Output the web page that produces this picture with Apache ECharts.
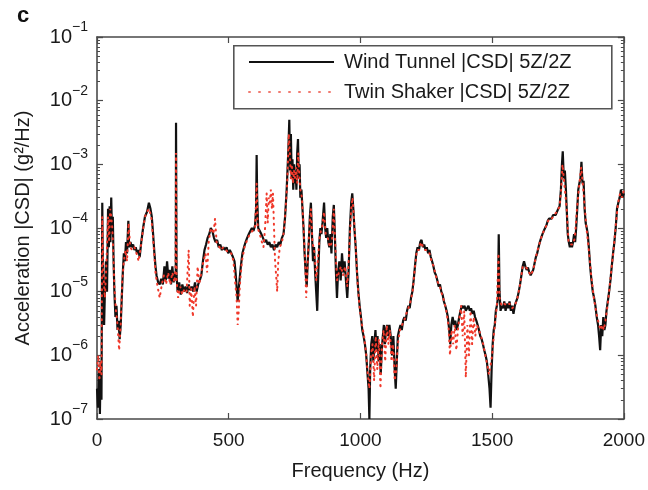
<!DOCTYPE html>
<html>
<head>
<meta charset="utf-8">
<script src="https://cdn.jsdelivr.net/npm/echarts@6/dist/echarts.min.js"></script>
<style>html,body{margin:0;padding:0;background:#fff;}#chart{width:648px;height:490px;}</style>
</head>
<body>
<div id="chart"></div>
<script>
// ---- DATA ----
const xTicks = [0, 500, 1000, 1500, 2000];
const yExponents = [-7, -6, -5, -4, -3, -2, -1];
const seriesNames = ['Wind Tunnel |CSD| 5Z/2Z', 'Twin Shaker |CSD| 5Z/2Z'];

// [frequency (Hz), |CSD| (g^2/Hz)]
const windTunnel = [
[0,3e-7],[4,1.5e-7],[8,6e-7],[11,1.2e-7],[14,8e-7],[17,2e-7],[20,2.5e-4],[23,1e-5],[27,3e-6],[30,1e-5],
[34,3e-5],[38,1e-5],[42,2e-4],[45,5e-5],[48,2.2e-4],[51,6e-5],[54,3e-4],[57,8e-5],[60,1.5e-4],[63,3e-5],
[66,1e-5],[70,4e-6],[74,6e-6],[78,2.5e-6],[82,3.5e-6],[86,1.8e-6],[90,3e-6],[94,8e-6],[98,2e-5],[102,4e-5],
[106,3e-5],[110,6e-5],[114,4e-5],[119,1.3e-4],[122,5e-5],[127,6e-5],[132,5e-5],[137,5.5e-5],[142,4.5e-5],[147,5e-5],
[152,4e-5],[157,4.5e-5],[162,3.5e-5],[168,6e-5],[175,1e-4],[182,1.5e-4],[190,1.8e-4],[197,2.5e-4],[203,2e-4],[208,1.5e-4],
[213,8e-5],[218,4e-5],[222,2.5e-5],[226,1.8e-5],[232,1.4e-5],[238,1.3e-5],[244,1.6e-5],[250,1.3e-5],[256,2.5e-5],[261,1.5e-5],
[266,3e-5],[271,1.6e-5],[276,2.2e-5],[281,1.3e-5],[286,2.5e-5],[291,1.4e-5],[296,2e-5],[299,1.5e-5],[300,4.5e-3],[302,1.8e-5],
[306,1e-5],[312,1.4e-5],[318,9e-6],[324,1.3e-5],[330,1e-5],[336,1.2e-5],[342,9.5e-6],[348,1.3e-5],[354,1.05e-5],[360,1.2e-5],
[366,1e-5],[372,1.4e-5],[378,1e-5],[384,1.3e-5],[390,1.5e-5],[396,1.8e-5],[402,3e-5],[408,4.5e-5],[414,5.5e-5],[420,7e-5],
[426,8e-5],[432,1e-4],[438,9e-5],[444,7e-5],[450,6e-5],[456,6.5e-5],[462,5e-5],[468,5.5e-5],[474,4.5e-5],[480,5e-5],
[486,4.5e-5],[492,5e-5],[498,4e-5],[504,4.5e-5],[510,4e-5],[516,3.5e-5],[522,3e-5],[526,2e-5],[530,1.2e-5],[534,7e-6],
[537,1e-5],[541,1.5e-5],[546,2.5e-5],[552,4e-5],[558,5e-5],[564,6e-5],[570,7e-5],[576,8e-5],[582,9e-5],[588,1e-4],
[594,9e-5],[600,1.1e-4],[604,2e-4],[606,1.4e-3],[608,3e-4],[612,1e-4],[618,9e-5],[624,8e-5],[630,7e-5],[636,6e-5],
[642,6.5e-5],[648,5.5e-5],[654,6e-5],[660,5e-5],[666,5.5e-5],[672,4.5e-5],[678,5.5e-5],[684,5e-5],[690,6e-5],[696,5.5e-5],
[702,7e-5],[708,8e-5],[714,1.5e-4],[720,4e-4],[726,1.5e-3],[730,5e-3],[733,8e-4],[736,3e-3],[739,6e-4],[742,1.2e-3],
[745,4e-4],[748,1e-3],[751,5e-4],[754,8e-4],[757,4e-4],[760,1.5e-3],[763,2.5e-3],[766,6e-4],[769,1e-3],[772,3e-4],
[776,4e-4],[780,2e-4],[784,1e-4],[788,4e-5],[792,2e-5],[796,1.2e-5],[800,3e-5],[804,6e-5],[808,1.5e-4],[812,2.5e-4],
[816,8e-5],[820,3e-5],[824,5e-5],[828,2e-5],[832,1e-5],[836,5e-6],[840,2e-5],[844,6e-5],[848,1e-4],[852,8e-5],
[856,1.2e-4],[862,2.5e-4],[866,1e-4],[870,7e-5],[874,1e-4],[878,6e-5],[882,5e-5],[886,8e-5],[890,4e-5],[895,1.5e-4],
[899,2.3e-4],[903,8e-5],[907,2e-5],[911,8e-6],[915,2e-5],[920,3e-5],[925,1.5e-5],[930,4e-5],[935,2e-5],[940,3e-5],
[945,1.5e-5],[950,8e-6],[955,2e-5],[960,1e-4],[965,2.5e-4],[969,3.5e-4],[973,2e-4],[977,1e-4],[982,5e-5],[987,2e-5],
[992,1e-5],[997,6e-6],[1002,4e-6],[1007,2.5e-6],[1012,2e-6],[1017,1.5e-6],[1022,1e-6],[1027,5e-7],[1031,3e-7],[1034,1e-7],
[1037,6e-7],[1041,1.5e-6],[1045,2e-6],[1049,8e-7],[1053,1.5e-6],[1057,2.5e-6],[1061,1.2e-6],[1065,2e-6],[1069,8e-7],[1073,1.5e-6],
[1077,5e-7],[1081,1.2e-6],[1085,2e-6],[1089,3e-6],[1093,1.5e-6],[1097,2.5e-6],[1101,3e-6],[1105,2e-6],[1110,3e-6],[1115,2e-6],
[1120,1e-6],[1125,2e-6],[1130,6e-7],[1134,3e-7],[1138,8e-7],[1142,2e-6],[1147,2.5e-6],[1152,3e-6],[1157,2.5e-6],[1162,3.5e-6],
[1167,4e-6],[1172,3.5e-6],[1177,5e-6],[1182,6e-6],[1187,5.5e-6],[1192,8e-6],[1197,1e-5],[1202,1.5e-5],[1207,2.5e-5],[1212,4e-5],
[1217,5e-5],[1222,4.5e-5],[1227,6e-5],[1232,6.5e-5],[1237,5e-5],[1242,5.5e-5],[1247,4.5e-5],[1252,5e-5],[1257,4e-5],[1262,4.5e-5],
[1267,3.5e-5],[1272,3e-5],[1277,2.5e-5],[1282,2e-5],[1287,1.8e-5],[1292,1.5e-5],[1297,1.2e-5],[1302,1.3e-5],[1307,1e-5],[1312,9e-6],
[1317,7e-6],[1322,6e-6],[1327,5e-6],[1332,4e-6],[1337,2.5e-6],[1341,1.5e-6],[1345,3e-6],[1350,4e-6],[1355,3e-6],[1360,3.5e-6],
[1365,2.5e-6],[1370,3e-6],[1375,4e-6],[1380,5e-6],[1385,6e-6],[1390,5.5e-6],[1395,6e-6],[1400,5e-6],[1405,5.5e-6],[1410,6e-6],
[1415,5e-6],[1420,5.5e-6],[1425,4.5e-6],[1430,5e-6],[1435,4e-6],[1440,3.5e-6],[1445,3e-6],[1450,2.5e-6],[1455,2e-6],[1460,1.8e-6],
[1465,1.5e-6],[1470,1.2e-6],[1475,1e-6],[1480,8e-7],[1485,5e-7],[1490,3e-7],[1494,1.5e-7],[1498,6e-7],[1502,1.5e-6],[1506,2.5e-6],
[1510,3e-6],[1514,5e-6],[1518,6e-6],[1522,8e-6],[1525,8e-5],[1528,1e-5],[1532,5e-6],[1536,6e-6],[1541,5.5e-6],[1546,7e-6],
[1551,5e-6],[1556,6.5e-6],[1561,5.5e-6],[1566,7e-6],[1571,5e-6],[1576,6e-6],[1581,4.5e-6],[1586,6e-6],[1591,7e-6],[1596,8e-6],
[1601,1e-5],[1606,1.3e-5],[1611,1.8e-5],[1616,2.5e-5],[1621,3e-5],[1626,2.5e-5],[1631,2.2e-5],[1636,2.4e-5],[1641,2e-5],[1646,1.8e-5],
[1651,2e-5],[1656,2.2e-5],[1661,2.8e-5],[1666,3.5e-5],[1671,4e-5],[1676,5e-5],[1681,6e-5],[1686,7e-5],[1691,8e-5],[1696,9e-5],
[1701,1e-4],[1706,1.1e-4],[1711,1.3e-4],[1716,1.4e-4],[1721,1.5e-4],[1726,1.4e-4],[1731,1.6e-4],[1736,1.7e-4],[1741,1.6e-4],[1746,1.8e-4],
[1751,2e-4],[1756,2.2e-4],[1761,4e-4],[1765,1e-3],[1768,1.6e-3],[1772,6e-4],[1776,8e-4],[1780,4e-4],[1783,2e-4],[1787,8e-5],
[1791,6e-5],[1795,5e-5],[1799,6e-5],[1803,5e-5],[1807,6e-5],[1811,8e-5],[1815,6e-5],[1819,1e-4],[1823,2e-4],[1827,4e-4],
[1831,5e-4],[1835,6e-4],[1839,1.1e-3],[1843,5e-4],[1847,5.5e-4],[1851,2e-4],[1855,1.2e-4],[1859,1e-4],[1863,8e-5],[1867,5e-5],
[1872,2.5e-5],[1877,1.5e-5],[1882,1e-5],[1887,8e-6],[1892,6e-6],[1897,4e-6],[1902,3e-6],[1906,2e-6],[1910,1.2e-6],[1914,3e-6],
[1918,2e-6],[1922,4e-6],[1926,2.5e-6],[1930,3e-6],[1934,5e-6],[1939,7e-6],[1944,1e-5],[1949,1.5e-5],[1954,2.5e-5],[1959,4e-5],
[1964,6e-5],[1969,1e-4],[1974,2e-4],[1979,2.5e-4],[1984,3e-4],[1989,4e-4],[1994,3e-4],[2000,3.5e-4]
];

const twinShaker = [
[0,6e-7],[5,1e-6],[9,4e-7],[13,8e-7],[17,5e-7],[20,1.5e-4],[24,2e-5],[30,8e-6],[36,3e-5],[42,1.5e-4],
[46,6e-5],[50,2e-4],[54,1.5e-4],[58,1e-4],[62,4e-5],[66,1.2e-5],[72,5e-6],[78,3e-6],[84,1.2e-6],[90,3e-6],
[96,1.5e-5],[102,3e-5],[108,4.5e-5],[114,3e-5],[120,1.2e-4],[126,5e-5],[134,4.5e-5],[142,5e-5],[150,4e-5],[158,3e-5],
[166,5e-5],[174,9e-5],[182,1.5e-4],[190,1.8e-4],[198,2e-4],[206,1.5e-4],[214,6e-5],[222,2e-5],[230,1.2e-5],[238,8e-6],
[246,1.3e-5],[254,1.8e-5],[262,1.3e-5],[270,2e-5],[278,1.3e-5],[286,2e-5],[294,1.4e-5],[298,2.5e-5],[300,1.5e-3],[302,1.5e-5],
[308,8e-6],[316,1.2e-5],[324,9e-6],[332,1.1e-5],[340,1e-5],[348,4.5e-5],[352,6e-6],[358,1.1e-5],[364,4e-6],[370,1.2e-5],
[376,6e-6],[382,2.5e-5],[388,1.3e-5],[396,2e-5],[404,3e-5],[412,4e-5],[418,2e-5],[424,6e-5],[430,9e-5],[436,1e-4],
[442,8e-5],[448,1.4e-4],[454,6e-5],[460,5.5e-5],[470,4.5e-5],[480,5e-5],[490,4.5e-5],[500,4e-5],[510,4e-5],[518,3e-5],
[524,1.5e-5],[530,8e-6],[534,3e-6],[538,5e-6],[542,1.2e-5],[550,3e-5],[560,5e-5],[570,6.5e-5],[580,8e-5],[590,9e-5],
[600,1e-4],[606,5e-4],[610,1e-4],[618,8e-5],[626,6e-5],[632,5e-5],[638,1e-4],[644,3.5e-4],[648,1.2e-4],[652,3e-4],
[656,2.5e-4],[660,4e-4],[664,2e-4],[668,3.5e-4],[672,1e-4],[676,3e-5],[680,1.8e-5],[684,1e-5],[688,3e-5],[694,5e-5],
[702,6e-5],[710,9e-5],[716,2e-4],[722,5e-4],[728,3e-3],[732,1.5e-3],[736,6e-4],[740,1e-3],[744,5e-4],[748,8e-4],
[752,6e-4],[756,9e-4],[760,5e-4],[764,1.5e-3],[768,7e-4],[772,4e-4],[778,3e-4],[784,1e-4],[790,3e-5],[794,8e-6],
[800,3e-5],[806,1e-4],[812,2e-4],[818,6e-5],[826,4e-5],[832,1.5e-5],[838,3e-5],[846,8e-5],[854,1e-4],[862,1.8e-4],
[868,8e-5],[876,7e-5],[884,5e-5],[892,6e-5],[899,2e-4],[905,5e-5],[911,1.5e-5],[918,2e-5],[926,2.5e-5],[934,1.8e-5],
[942,2.5e-5],[950,1.2e-5],[958,5e-5],[965,2e-4],[970,3e-4],[975,1.5e-4],[982,5e-5],[990,1.2e-5],[998,5e-6],[1006,3e-6],
[1014,2e-6],[1022,1e-6],[1028,5e-7],[1034,3e-7],[1040,1e-6],[1046,1.5e-6],[1052,4e-7],[1058,2e-6],[1064,6e-7],[1070,1.8e-6],
[1076,3e-7],[1082,1.5e-6],[1088,2.5e-6],[1094,8e-7],[1100,3e-6],[1106,1.5e-6],[1112,2.5e-6],[1118,8e-7],[1124,1.5e-6],[1130,4e-7],
[1136,6e-7],[1142,1.5e-6],[1150,2.5e-6],[1158,3e-6],[1166,3.5e-6],[1174,4.5e-6],[1182,5.5e-6],[1190,7e-6],[1198,1e-5],[1206,2.2e-5],
[1214,4.5e-5],[1222,4.5e-5],[1230,6e-5],[1238,5e-5],[1246,4.5e-5],[1254,4.5e-5],[1262,4e-5],[1270,3e-5],[1278,2.5e-5],[1286,1.8e-5],
[1294,1.4e-5],[1302,1.2e-5],[1310,9e-6],[1318,7e-6],[1326,5e-6],[1334,3e-6],[1340,1e-6],[1346,2.5e-6],[1352,1.5e-6],[1358,3e-6],
[1364,1.2e-6],[1370,2.5e-6],[1376,4e-6],[1382,6e-6],[1388,2e-6],[1394,5e-6],[1400,4.5e-7],[1406,3e-6],[1412,1e-6],[1418,5e-6],
[1424,1.5e-6],[1430,4e-6],[1436,2e-6],[1442,3e-6],[1450,2.5e-6],[1458,2e-6],[1466,1.5e-6],[1474,1e-6],[1482,7e-7],[1488,5e-7],
[1494,7e-7],[1500,1e-6],[1506,2e-6],[1512,3.5e-6],[1518,6e-6],[1524,4e-5],[1528,8e-6],[1536,6e-6],[1546,6.5e-6],[1556,6e-6],
[1566,6.5e-6],[1576,5.5e-6],[1586,6e-6],[1596,8e-6],[1606,1.3e-5],[1616,2.5e-5],[1626,2.5e-5],[1636,2.2e-5],[1646,1.8e-5],[1656,2.2e-5],
[1666,3.5e-5],[1676,5e-5],[1686,7e-5],[1696,9e-5],[1706,1.1e-4],[1716,1.4e-4],[1726,1.4e-4],[1736,1.6e-4],[1746,1.8e-4],[1756,2.2e-4],
[1762,4e-4],[1767,1e-3],[1772,6e-4],[1777,6e-4],[1783,2e-4],[1790,6e-5],[1798,5.5e-5],[1806,5.5e-5],[1814,7e-5],[1822,2e-4],
[1830,4.5e-4],[1838,9e-4],[1844,5e-4],[1850,2.5e-4],[1858,1e-4],[1866,5e-5],[1876,1.8e-5],[1886,8e-6],[1896,4.5e-6],[1906,3e-6],
[1912,2.5e-6],[1918,3e-6],[1924,2.5e-6],[1930,3.5e-6],[1938,6e-6],[1946,1.2e-5],[1954,2.5e-5],[1962,5e-5],[1970,1.2e-4],[1978,2.5e-4],
[1986,3.5e-4],[1994,3e-4],[2000,4e-4]
];

// ---- CHART ----
const FONT = 'Liberation Sans, Arial, Helvetica, sans-serif';
const AX = '#4a4a4a';
const chart = echarts.init(document.getElementById('chart'), null, {renderer: 'canvas'});

function supLabel(v) {
  const e = Math.round(Math.log10(v));
  if (yExponents.indexOf(e) < 0) return '';
  return '{b|10}{s|' + (e < 0 ? '\u2212' + (-e) : e) + '}';
}

const baseX = {
  type: 'value', min: xTicks[0], max: xTicks[xTicks.length - 1], interval: 500,
  axisLine: {show: true, onZero: false, lineStyle: {color: AX, width: 1.6}},
  axisTick: {show: true, inside: true, length: 6, lineStyle: {color: AX, width: 1.2}},
  splitLine: {show: false}
};
const baseY = {
  type: 'log', logBase: 10, min: 1e-7, max: 1e-1, interval: 1,
  axisLine: {show: true, onZero: false, lineStyle: {color: AX, width: 1.6}},
  axisTick: {show: true, inside: true, length: 6, lineStyle: {color: AX, width: 1.2}},
  minorTick: {show: true, splitNumber: 9, length: 3, lineStyle: {color: AX, width: 1}},
  splitLine: {show: false}, minorSplitLine: {show: false}
};

const option = {
  animation: false,
  backgroundColor: '#ffffff',
  title: {text: 'c', left: 12, top: 0, textStyle: {fontFamily: FONT, fontWeight: 'bold', fontSize: 22, color: '#111'}},
  grid: {left: 97, right: 23, top: 37, bottom: 71, containLabel: false},
  graphic: [{
    type: 'rect', left: 233, top: 45, z: 1,
    shape: {width: 378, height: 63},
    style: {fill: '#ffffff', stroke: '#555', lineWidth: 1.6}
  }],
  legend: {
    orient: 'vertical', left: 248, top: 51, padding: 0, itemGap: 8, z: 5,
    itemWidth: 85, itemHeight: 14,
    data: [
      {name: seriesNames[0]},
      {name: seriesNames[1], lineStyle: {color: '#f07a70', width: 2, type: [1, 9], cap: 'round'}}
    ],
    itemStyle: {opacity: 0},
    textStyle: {fontFamily: FONT, fontSize: 20, color: '#1a1a1a', lineHeight: 22, padding: [0, 0, 0, 5]}
  },
  xAxis: [
    Object.assign({}, baseX, {
      position: 'bottom',
      axisLabel: {show: true, margin: 12, fontFamily: FONT, fontSize: 19, color: '#1a1a1a',
        formatter: function (v) { return String(v); }},
      name: 'Frequency (Hz)', nameLocation: 'middle', nameGap: 42,
      nameTextStyle: {fontFamily: FONT, fontSize: 20, color: '#1a1a1a'}
    }),
    Object.assign({}, baseX, {position: 'top', axisLabel: {show: false}})
  ],
  yAxis: [
    Object.assign({}, baseY, {
      position: 'left',
      axisLabel: {
        show: true, margin: 9, formatter: supLabel,
        rich: {
          b: {fontFamily: FONT, fontSize: 20, color: '#1a1a1a', lineHeight: 34, verticalAlign: 'middle'},
          s: {fontFamily: FONT, fontSize: 14, color: '#1a1a1a', lineHeight: 12, verticalAlign: 'top'}
        }
      },
      name: 'Acceleration |CSD| (g\u00B2/Hz)', nameLocation: 'middle', nameGap: 64,
      nameTextStyle: {fontFamily: FONT, fontSize: 20, color: '#1a1a1a'}
    }),
    Object.assign({}, baseY, {position: 'right', axisLabel: {show: false}})
  ],
  series: [
    {
      name: seriesNames[0], type: 'line', xAxisIndex: 0, yAxisIndex: 0,
      data: windTunnel, symbol: 'none', showSymbol: false, z: 2,
      lineStyle: {color: '#111111', width: 2.2},
      itemStyle: {color: '#111111'}
    },
    {
      name: seriesNames[1], type: 'line', xAxisIndex: 0, yAxisIndex: 0,
      data: twinShaker, symbol: 'none', showSymbol: false, z: 3,
      lineStyle: {color: '#f0392b', width: 2, type: [1, 5], cap: 'round'},
      itemStyle: {color: '#f0392b'}
    }
  ]
};
chart.setOption(option);
</script>
</body>
</html>
